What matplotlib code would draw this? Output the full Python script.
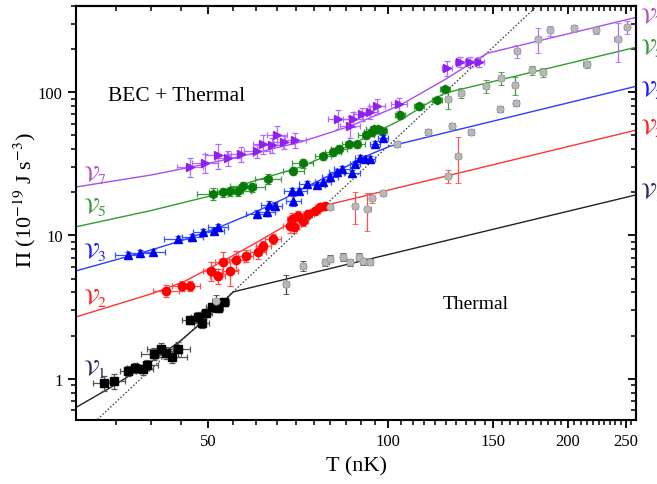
import numpy as np
import matplotlib
matplotlib.use("Agg")
import matplotlib.pyplot as plt
from matplotlib.ticker import FixedLocator, FixedFormatter, NullFormatter, LogLocator

plt.rcParams['font.family'] = ['Liberation Serif', 'DejaVu Serif']
plt.rcParams['mathtext.fontset'] = 'stix'

# ---- measured points: T (nK), Pi (1e-19 J s^-3), relative errors ----
# nu1
nu1_T = [33.4, 34.8, 36.7, 37.7, 38.8, 39.5, 40.6, 41.6, 42.5, 43.5, 44.4, 46.6, 48.1, 48.7, 49.6, 50.6, 51.9, 53.0]
nu1_P = [0.94, 0.96, 1.14, 1.19, 1.16, 1.25, 1.49, 1.62, 1.52, 1.42, 1.62, 2.58, 2.70, 2.46, 2.88, 3.17, 3.12, 3.44]
nu1_dT = [0.04, 0.04, 0.03, 0.03, 0.04, 0.04, 0.05, 0.05, 0.06, 0.06, 0.05, 0.03, 0.03, 0.03, 0.02, 0.02, 0.02, 0.02]
nu1_dP = [0.12, 0.12, 0.08, 0.08, 0.08, 0.08, 0.10, 0.10, 0.10, 0.10, 0.12, 0.06, 0.08, 0.08, 0.06, 0.06, 0.06, 0.06]
nu1_th_T = [51.4, 67.5, 71.9, 78.5, 80.0, 84.0, 86.4, 89.4, 90.8, 93.3]
nu1_th_P = [3.5, 4.6, 6.1, 6.5, 6.9, 7.1, 6.5, 7.1, 6.6, 6.5]
nu1_th_dP = [0.10, 0.15, 0.08, 0.06, 0.06, 0.06, 0.06, 0.06, 0.06, 0.05]

# nu2
nu2_T = [42.5, 45.2, 46.6, 50.4, 51.8, 52.8, 54.4, 55.7, 57.7, 60.6, 61.8, 64.2, 68.6, 69.1, 69.6, 70.7, 71.9, 73.5, 75.5, 77.0, 78.5]
nu2_P = [4.11, 4.45, 4.45, 5.66, 5.22, 6.54, 5.66, 6.75, 7.20, 7.67, 8.45, 9.45, 11.6, 13.0, 11.5, 13.7, 12.6, 14.1, 14.8, 15.8, 16.1]
nu2_dT = [0.05, 0.04, 0.04, 0.03, 0.03, 0.03, 0.03, 0.03, 0.03, 0.03, 0.03, 0.03, 0.03, 0.02, 0.02, 0.02, 0.02, 0.02, 0.02, 0.02, 0.02]
nu2_dP = [0.10, 0.08, 0.08, 0.15, 0.12, 0.18, 0.22, 0.15, 0.10, 0.10, 0.08, 0.08, 0.10, 0.10, 0.10, 0.08, 0.08, 0.06, 0.05, 0.05, 0.05]
nu2_th_T = [80.0, 88.0, 92.3, 94.0, 98.0, 126.0, 130.9]
nu2_th_P = [15.8, 16.1, 15.3, 18.3, 19.8, 26.0, 35.8]
nu2_th_dP = [0.05, 0.25, 0.30, 0.08, 0.05, 0.10, 0.35]

# nu3
nu3_T = [36.7, 38.4, 40.3, 44.4, 47.0, 49.0, 51.0, 51.9, 60.2, 62.7, 63.2, 64.5, 69.1, 69.4, 71.0, 73.2, 76.1, 77.8,
         80.0, 82.2, 83.8, 87.0, 88.0, 89.7, 91.5, 93.3, 95.1, 98.0]
nu3_P = [7.31, 7.55, 7.67, 9.45, 9.76, 10.6, 10.7, 11.5, 14.1, 14.6, 16.3, 16.1, 20.4, 17.4, 20.4, 22.9, 22.5, 23.6,
         25.6, 27.7, 29.1, 27.3, 31.5, 34.7, 34.1, 34.1, 43.4, 47.8]
nu3_dT = [0.05, 0.05, 0.05, 0.05, 0.04, 0.04, 0.04, 0.04, 0.04, 0.03, 0.03, 0.03, 0.03, 0.03, 0.03, 0.03, 0.03, 0.03,
          0.03, 0.03, 0.03, 0.03, 0.02, 0.02, 0.02, 0.02, 0.02, 0.02]
nu3_dP = [0.05, 0.05, 0.05, 0.05, 0.05, 0.05, 0.05, 0.05, 0.06, 0.06, 0.06, 0.06, 0.05, 0.08, 0.05, 0.05, 0.05, 0.05,
          0.05, 0.05, 0.05, 0.05, 0.05, 0.05, 0.05, 0.05, 0.05, 0.05]
nu3_th_T = [103.5, 116.7, 128.0, 137.7, 153.8, 163.6]
nu3_th_P = [43.4, 52.6, 58.0, 52.6, 76.2, 83.8]
nu3_th_dP = [0.05, 0.05, 0.05, 0.05, 0.05, 0.05]

# nu5
nu5_T = [50.8, 52.8, 54.4, 56.1, 57.2, 59.2, 63.0, 69.4, 71.9, 77.8, 80.9, 82.7, 86.1, 88.7, 91.8, 94.0, 94.7, 96.2,
         97.7, 104.7, 112.7, 120.7, 124.6]
nu5_P = [19.5, 20.1, 20.4, 20.4, 22.1, 21.8, 24.8, 28.2, 32.0, 35.8, 38.2, 40.1, 43.4, 43.4, 50.2, 52.6, 55.2, 55.2,
         53.5, 69.2, 79.8, 88.0, 104.9]
nu5_dT = [0.06, 0.05, 0.05, 0.05, 0.05, 0.05, 0.05, 0.04, 0.04, 0.03, 0.03, 0.03, 0.03, 0.03, 0.03, 0.03, 0.03, 0.03,
          0.02, 0.02, 0.02, 0.02, 0.02]
nu5_dP = [0.10, 0.07, 0.07, 0.07, 0.07, 0.07, 0.08, 0.07, 0.07, 0.06, 0.06, 0.06, 0.06, 0.06, 0.06, 0.06, 0.06, 0.06,
          0.06, 0.06, 0.06, 0.05, 0.06]
nu5_th_T = [126.0, 132.4, 145.8, 154.4, 162.9, 173.9, 181.6, 214.9]
nu5_th_P = [89.4, 98.4, 110, 125, 112, 142, 138, 157]
nu5_th_dP = [0.15, 0.08, 0.10, 0.10, 0.14, 0.07, 0.07, 0.06]

# nu7
nu7_T = [46.6, 49.4, 51.9, 53.9, 56.6, 60.4, 61.8, 64.0, 65.2, 66.8, 69.9, 82.5, 86.4, 87.4, 90.5, 93.3, 95.9, 104.3,
         125.6, 131.9, 137.2, 141.9]
nu7_P = [30.0, 32.0, 36.4, 34.7, 37.0, 38.8, 43.4, 42.7, 50.2, 44.9, 46.3, 64.9, 58.0, 64.9, 70.2, 72.6, 79.8, 82.4,
         147, 162, 162, 162]
nu7_dT = [0.05, 0.05, 0.05, 0.05, 0.05, 0.05, 0.04, 0.04, 0.04, 0.04, 0.04, 0.04, 0.04, 0.04, 0.03, 0.03, 0.03, 0.03,
          0.02, 0.02, 0.02, 0.02]
nu7_dP = [0.15, 0.15, 0.20, 0.12, 0.12, 0.10, 0.15, 0.12, 0.15, 0.10, 0.12, 0.15, 0.18, 0.12, 0.10, 0.10, 0.12, 0.10,
          0.12, 0.08, 0.08, 0.08]
nu7_th_T = [164.1, 178.1, 186.6, 204.6, 222.6, 242.1, 250.8]
nu7_th_P = [193, 234, 270, 279, 270, 234, 284]
nu7_th_dP = [0.10, 0.20, 0.08, 0.06, 0.06, 0.30, 0.10]

# ---- model curves (BEC + thermal below the transition, thermal above) ----
nu1_fit_T = [30, 34.3, 39.2, 44.9, 50.4, 55.0, 260]
nu1_fit_P = [0.63, 0.87, 1.23, 1.84, 2.79, 4.04, 19.2]
nu2_fit_T = [30, 40.0, 45.4, 51.8, 58.8, 66.8, 72.6, 78.8, 260]
nu2_fit_P = [2.70, 3.90, 4.74, 6.33, 8.45, 11.5, 13.8, 16.3, 54.4]
nu3_fit_T = [30, 40.0, 45.4, 51.8, 58.8, 66.8, 74.0, 82.2, 90.8, 100.7, 260]
nu3_fit_P = [5.66, 7.90, 9.30, 11.3, 14.1, 18.0, 22.5, 28.0, 35.2, 42.0, 110]
nu5_fit_T = [30, 40.0, 50.4, 58.8, 71.3, 86.4, 104.7, 124.1, 260]
nu5_fit_P = [11.5, 14.9, 18.9, 23.6, 30.0, 42.7, 63.8, 98.4, 206]
nu7_fit_T = [30, 40.0, 48.5, 58.8, 71.3, 86.4, 104.7, 124.6, 146.4, 260]
nu7_fit_P = [21.8, 26.4, 31.0, 37.0, 44.9, 58.0, 81.2, 123, 187, 333]

# critical line
crit_T = [32.6, 177.4]
crit_P = [0.52, 400]

x_major = [50, 100, 150, 200, 250]
x_minor = [t for t in range(35, 260, 5) if t not in x_major]

fig = plt.figure(figsize=(6.57, 4.85), dpi=100)
ax = fig.add_axes([76 / 657, 1 - 421 / 485, 560 / 657, 414 / 485])
ax.set_xscale('log')
ax.set_yscale('log')
ax.set_xlim(30, 260)
ax.set_ylim(0.515, 400)

grey_fill = '#b8b8b8'
grey_edge = '#9a9a9a'

series = [
    # fit T, fit P, line col, bec data, marker, marker col, bar col, thermal data
    (nu7_fit_T, nu7_fit_P, '#a64df5', (nu7_T, nu7_P, nu7_dT, nu7_dP), '>', '#9020f0', '#b36bff',
     (nu7_th_T, nu7_th_P, nu7_th_dP)),
    (nu5_fit_T, nu5_fit_P, '#2e9e2e', (nu5_T, nu5_P, nu5_dT, nu5_dP), 'h', '#087a08', '#3c9c3c',
     (nu5_th_T, nu5_th_P, nu5_th_dP)),
    (nu3_fit_T, nu3_fit_P, '#2b3cff', (nu3_T, nu3_P, nu3_dT, nu3_dP), '^', '#0000ee', '#3355ff',
     (nu3_th_T, nu3_th_P, nu3_th_dP)),
    (nu2_fit_T, nu2_fit_P, '#ff3333', (nu2_T, nu2_P, nu2_dT, nu2_dP), 'o', '#ff0000', '#ff5050',
     (nu2_th_T, nu2_th_P, nu2_th_dP)),
    (nu1_fit_T, nu1_fit_P, '#222222', (nu1_T, nu1_P, nu1_dT, nu1_dP), 's', '#000000', '#555555',
     (nu1_th_T, nu1_th_P, nu1_th_dP)),
]

ax.plot(crit_T, crit_P, color='#333333', lw=0.9, ls=(0, (1.2, 1.6)), zorder=2)

for fT, fP, lcol, bec, mk, mcol, bcol, th in series:
    ax.plot(fT, fP, color=lcol, lw=1.0, zorder=2)
    T, P, dT, dP = (np.array(a, dtype=float) for a in bec)
    ax.errorbar(T, P, xerr=T * dT, yerr=P * dP, fmt=mk, ms=6 if mk != 's' else 5.5,
                mfc=mcol, mec=mcol, ecolor=bcol, elinewidth=0.9, capsize=2.5, capthick=0.9, zorder=3)
    tT, tP, tdP = (np.array(a, dtype=float) for a in th)
    ax.errorbar(tT, tP, xerr=tT * 0.012, yerr=tP * tdP, fmt='o', ms=5.2,
                mfc=grey_fill, mec=grey_edge, mew=0.6, ecolor=bcol if mk != 's' else '#444444',
                elinewidth=0.9, capsize=2.5, capthick=0.9, zorder=3)

# ticks: out on bottom/left, mirrored inward on top/right
ax.xaxis.set_major_locator(FixedLocator(x_major))
ax.xaxis.set_major_formatter(FixedFormatter([str(v) for v in x_major]))
ax.xaxis.set_minor_locator(FixedLocator(x_minor))
ax.xaxis.set_minor_formatter(NullFormatter())
ax.yaxis.set_major_locator(FixedLocator([1, 10, 100]))
ax.yaxis.set_major_formatter(FixedFormatter(['1', '10', '100']))
ax.yaxis.set_minor_locator(LogLocator(base=10, subs=np.arange(2, 10)))
ax.yaxis.set_minor_formatter(NullFormatter())
ax.tick_params(which='major', direction='out', length=6, width=1.3, labelsize=12)
ax.tick_params(which='minor', direction='out', length=3.5, width=1.1)

top = ax.secondary_xaxis('top')
top.xaxis.set_major_locator(FixedLocator(x_major))
top.xaxis.set_minor_locator(FixedLocator(x_minor))
top.xaxis.set_minor_formatter(NullFormatter())
top.tick_params(which='major', direction='in', length=6, width=1.3, labeltop=False)
top.tick_params(which='minor', direction='in', length=3.5, width=1.1)

right = ax.secondary_yaxis('right')
right.yaxis.set_major_locator(FixedLocator([1, 10, 100]))
right.yaxis.set_minor_locator(LogLocator(base=10, subs=np.arange(2, 10)))
right.yaxis.set_minor_formatter(NullFormatter())
right.tick_params(which='major', direction='in', length=6, width=1.3, labelright=False)
right.tick_params(which='minor', direction='in', length=3.5, width=1.1)

for a in (ax, top, right):
    for s in a.spines.values():
        s.set_linewidth(1.5)

# curve labels, left inside the axes and right outside
left_lab = [(r'$\mathcal{V}_7$', 26.8, '#b44fc0'), (r'$\mathcal{V}_5$', 16.1, '#3a9a3a'),
            (r'$\mathcal{V}_3$', 7.8, '#1a1aff'), (r'$\mathcal{V}_2$', 3.73, '#ff2020'),
            (r'$\mathcal{V}_1$', 1.19, '#2a2a60')]
right_P = [338, 206, 105, 57, 20.4]
for (txt, p, c), rp in zip(left_lab, right_P):
    ax.text(30.8, p, txt, color=c, fontsize=16, ha='left', va='center')
    ax.text(1.008, rp, txt, color=c, fontsize=16, ha='left', va='center',
            transform=ax.get_yaxis_transform(), clip_on=False)

ax.text(34.0, 95, 'BEC + Thermal', fontsize=15.5, ha='left', va='center')
ax.text(123.6, 3.33, 'Thermal', fontsize=14, ha='left', va='center')

fig.text(356 / 657, 1 - 467 / 485, 'T (nK)', fontsize=16, ha='center', va='center')
fig.text(25 / 657, 1 - 200 / 485, r'$\Pi$ (10$^{-19}$ J s$^{-3}$)', fontsize=16,
         rotation=90, ha='center', va='center')

fig.savefig('out.png', dpi=100)
